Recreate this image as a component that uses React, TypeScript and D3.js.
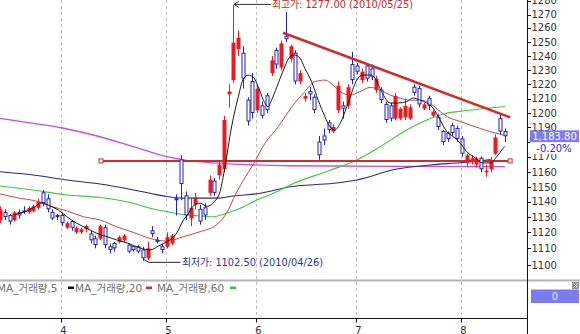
import React from "react";
import * as d3 from "d3";

// ---- Daily candles (index 0 = mid March 2010 ... index 106 = mid Aug 2010) ----
const opens = [
  1128, 1133, 1131, 1128, 1133, 1134, 1133, 1134, 1136, 1146,
  1142, 1133, 1131, 1131, 1123, 1127, 1120, 1120, 1122, 1119,
  1116, 1116, 1123, 1111, 1113, 1114, 1115, 1112, 1111, 1111,
  1109, 1104, 1121, 1115, 1111, 1111, 1113, 1142, 1168, 1144,
  1129, 1138, 1135, 1136, 1146, 1154, 1158, 1162, 1213, 1223,
  1245, 1242, 1209, 1222, 1202, 1205, 1212, 1228, 1244, 1232,
  1254, 1238, 1242, 1222, 1210, 1215, 1211, 1180, 1184, 1193,
  1187, 1202, 1205, 1205, 1234, 1233, 1223, 1233, 1231, 1216,
  1216, 1206, 1205, 1196, 1196, 1197, 1196, 1218, 1217, 1203,
  1210, 1198, 1197, 1187, 1186, 1191, 1189, 1182, 1166, 1167,
  1165, 1169, 1160, 1162, 1172, 1196, 1187,
];
const highs = [
  1137, 1135, 1132, 1134, 1135, 1137, 1137, 1138, 1142, 1148,
  1145, 1135, 1132, 1133, 1127, 1128, 1124, 1123, 1125, 1121,
  1118, 1125, 1125, 1113, 1114, 1118, 1119, 1113, 1112, 1112,
  1111, 1114, 1124, 1117, 1113, 1120, 1119, 1145, 1171, 1147,
  1142, 1146, 1138, 1139, 1158, 1156, 1167, 1198, 1220, 1277,
  1258, 1247, 1211, 1228, 1219, 1208, 1214, 1240, 1246, 1251,
  1272, 1248, 1244, 1230, 1214, 1218, 1213, 1184, 1189, 1195,
  1192, 1222, 1208, 1220, 1243, 1235, 1231, 1235, 1234, 1226,
  1218, 1208, 1207, 1214, 1204, 1210, 1206, 1220, 1219, 1207,
  1212, 1202, 1199, 1188, 1187, 1193, 1191, 1184, 1172, 1171,
  1170, 1170, 1165, 1170, 1185, 1199, 1189,
];
const lows = [
  1126, 1128, 1125, 1127, 1129, 1132, 1132, 1133, 1135, 1137,
  1133, 1128, 1128, 1124, 1122, 1121, 1119, 1119, 1120, 1113,
  1110, 1115, 1110, 1107, 1108, 1113, 1114, 1107, 1108, 1107,
  1102.5, 1103, 1117, 1113, 1107, 1110, 1112, 1131, 1141, 1128,
  1124, 1135, 1125, 1128, 1144, 1144, 1155, 1160, 1204, 1221,
  1240, 1217, 1191, 1196, 1200, 1196, 1200, 1226, 1231, 1230,
  1250, 1236, 1220, 1220, 1208, 1209, 1200, 1168, 1178, 1186,
  1186, 1200, 1196, 1203, 1220, 1227, 1221, 1222, 1223, 1214,
  1207, 1193, 1194, 1195, 1195, 1195, 1195, 1212, 1204, 1202,
  1202, 1197, 1188, 1178, 1180, 1184, 1180, 1170, 1164, 1165,
  1163, 1160, 1157, 1160, 1171, 1185, 1180,
];
const closes = [
  1135, 1130, 1127, 1133, 1131, 1133, 1136, 1137, 1140, 1139,
  1135, 1129, 1130, 1126, 1126, 1123, 1123, 1122, 1124, 1115,
  1112, 1124, 1112, 1109, 1110, 1117, 1118, 1108, 1109, 1108,
  1104, 1110, 1119, 1114, 1109, 1117, 1118, 1141, 1152, 1131,
  1136, 1143, 1127, 1131, 1155, 1146, 1165, 1195, 1215, 1249.5,
  1253, 1224, 1194, 1200, 1217, 1198, 1202, 1237, 1234, 1249,
  1252, 1247, 1222, 1228, 1212, 1213, 1202, 1171, 1181, 1188,
  1190, 1219, 1203, 1218, 1223, 1229, 1229, 1224, 1225, 1224,
  1209, 1195, 1196, 1212, 1203, 1205, 1204, 1214, 1206, 1206,
  1205, 1201, 1190, 1180, 1182, 1186, 1182, 1172, 1171, 1169,
  1169, 1162, 1161, 1168, 1183, 1187, 1183.8,
];

// ---- Moving averages as [candle index, price] ----
const ma5: [number, number][] = [
  [3, 1131.5], [4.2, 1132.4], [6.9, 1135.9], [8.7, 1139.2], [10.5, 1137.2], [12.2, 1134.6],
  [14, 1130.2], [16.1, 1125.9], [18.2, 1122.6], [20.3, 1119.4], [22.4, 1117.3], [24.5, 1115.2],
  [26.7, 1113.3], [29.4, 1110.2], [31.5, 1109], [33.6, 1112], [35, 1114], [37.1, 1119.6],
  [38.5, 1128], [39.5, 1132], [40.5, 1137], [42, 1139], [43.5, 1137], [45, 1140], [46.2, 1147],
  [47.2, 1163], [48.6, 1190], [50, 1211], [51.1, 1224], [52.1, 1226.5], [53.2, 1225],
  [54.2, 1218.3], [55.3, 1209], [56.3, 1204.4], [57, 1209], [58.1, 1218], [59.5, 1230.2],
  [60.9, 1239.5], [61.9, 1240.7], [63, 1238.4], [64, 1231.4], [65.4, 1221.9], [66.8, 1209],
  [68.2, 1197.4], [69.3, 1190], [70.3, 1188], [71.4, 1192.6], [73.1, 1207], [74.9, 1223],
  [76.2, 1226.6], [77.7, 1226.6], [78.7, 1224.5], [80.1, 1215], [81.9, 1207], [83.6, 1207],
  [85.4, 1208], [86.7, 1210.5], [88.2, 1209], [89.6, 1207], [90.9, 1203.5], [92.4, 1195],
  [93.8, 1187], [95.1, 1183.7], [96.6, 1179.3], [98, 1173.4], [99.8, 1169.2], [101.2, 1166],
  [102.9, 1166], [104.3, 1170], [105.7, 1176], [106, 1177],
];
const ma20: [number, number][] = [
  [0, 1145.3], [4.2, 1142.3], [7.3, 1140.7], [10.5, 1137.2], [14, 1134], [17.5, 1130.2],
  [21, 1128], [24.5, 1123.6], [28, 1119.9], [31.5, 1116.2], [35, 1114.5], [38.5, 1117.3],
  [42, 1120.4], [45.5, 1125], [47, 1130], [48, 1135], [49, 1142], [51.1, 1154.7],
  [53.1, 1164.7], [55.6, 1179], [58.4, 1190.2], [61.2, 1204], [64, 1214.9], [66.1, 1221.9],
  [68.2, 1223], [70.3, 1218.3], [71.4, 1214.9], [73.5, 1212.6], [75.6, 1214.9], [77.7, 1217.9],
  [79.8, 1216], [81.9, 1212.6], [84, 1210.3], [86.1, 1209], [88.2, 1209], [90.3, 1206.8],
  [92.4, 1201], [94.5, 1196.4], [96.6, 1194], [98.7, 1191.4], [100.8, 1189.1], [102.9, 1186.9],
  [104.3, 1185.8], [106, 1184.3],
];
const ma60: [number, number][] = [
  [0, 1150.7], [6.9, 1148], [14, 1144.6], [21, 1142.9], [28, 1139], [31.5, 1135.7],
  [35, 1133.5], [38.5, 1131.6], [42, 1130.7], [44.8, 1130.2], [47.6, 1132.5], [50.4, 1135.7],
  [53.9, 1141.2], [57.4, 1145.7], [60.9, 1151.4], [69, 1161], [74.9, 1167.9], [79.8, 1176.8],
  [85.4, 1188], [89.6, 1195], [93.1, 1199.3], [97.3, 1201.4], [102.2, 1203.3], [106, 1204.5],
];
const ma120: [number, number][] = [
  [0, 1160.4], [7, 1158.2], [14, 1154.8], [21, 1152], [28, 1148], [31.5, 1145.7],
  [35, 1143.5], [38.5, 1142.4], [42, 1142.4], [45.5, 1142.4], [49, 1143.9], [54.6, 1145.7],
  [60.9, 1150.2], [70, 1152.5], [74.9, 1154.8], [83.3, 1162.1], [90.3, 1164.7], [97.3, 1166.3],
  [103, 1168.2],
];
const ma240: [number, number][] = [
  [0, 1196.1], [7, 1192.6], [12.8, 1189.5], [21, 1183.5], [28, 1176.8], [35, 1170],
  [38.5, 1167.9], [43.4, 1166.4], [49, 1165.3], [60.9, 1164.2], [84, 1163.8], [106, 1163.7],
];

// ---- Axis / annotation values ----
const priceTicks = [1100, 1110, 1120, 1130, 1140, 1150, 1160, 1170, 1180, 1190, 1200, 1210, 1220, 1230, 1240, 1250, 1260, 1270, 1280];
const hiddenTickLabels = [1180]; // fully covered by the last-price box in the original
const monthLabels = ["4", "5", "6", "7", "8"];
const monthStartIdx = [13, 35, 54, 75, 97];
const trendPoints: [number, number][] = [[59.4, 1256.5], [107.1, 1196.9]];
const supportPrice = 1167.3;
const supportRange = [21.2, 107.1];
const highIdx = 49, highPrice = 1277;
const highLabel = "최고가: 1277.00 (2010/05/25)";
const lowIdx = 30, lowPrice = 1102.5;
const lowLabel = "최저가: 1102.50 (2010/04/26)";
const lastPriceLabel = "1,183.80";
const lastPrice = 1183.8;
const changeLabel = "-0.20%";
const volumeValueLabel = "0";
const legendItems = [
  { label: "MA_거래량,5", color: "#111111" },
  { label: "MA_거래량,20", color: "#d83030" },
  { label: "MA_거래량,60", color: "#33cc33" },
];

const RED = "#ea1c22";
const BLUE = "#2323c0";
const FONT = "'DejaVu Sans', 'Noto Sans CJK KR', sans-serif";

export default function App() {
  const W = 580, H = 334;
  const axisX = 527;
  const sepY = 280.5;
  const xAxisY = 318.5;

  const x = d3.scaleLinear().domain([13, 97]).range([62, 462]);
  const y = d3
    .scaleLinear()
    .domain(priceTicks)
    .range([265, 248.3, 232.3, 217, 201.7, 187, 172.3, 156.7, 142, 127, 113, 98.7, 84.3, 70.3, 56, 42, 27.7, 14.7, 0.7]);

  const line = d3
    .line<[number, number]>()
    .x((d) => x(d[0]))
    .y((d) => y(d[1]))
    .curve(d3.curveMonotoneX);

  const idx = d3.range(opens.length);
  const gridXs = monthStartIdx.map((m) => Math.round(x(m)) - 0.5);

  const hx = x(highIdx) + 0.5;
  const hy = y(highPrice) - 0.5;
  const lx = x(lowIdx) + 0.5;
  const ly = y(lowPrice);
  const lastY = y(lastPrice);
  const supY = y(supportPrice);

  const legendX = [-3, 75, 157];
  const legendDashX = [68, 146, 230];

  return (
    <svg
      width={W}
      height={H}
      viewBox={`0 0 ${W} ${H}`}
      style={{ position: "absolute", left: 0, top: 0, background: "#fff" }}
      fontFamily={FONT}
    >
      <defs>
        <clipPath id="plotClip">
          <rect x={0} y={0} width={axisX} height={sepY - 1} />
        </clipPath>
      </defs>
      <rect x={0} y={0} width={W} height={H} fill="#fff" />

      {/* vertical dashed gridlines */}
      {gridXs.map((gx, i) => (
        <line key={`g${i}`} x1={gx} x2={gx} y1={0} y2={xAxisY} stroke="#bdbdbd" strokeDasharray="3,3" />
      ))}

      <g clipPath="url(#plotClip)">
        {/* moving averages */}
        <path d={line(ma240) || ""} fill="none" stroke="#c450dc" strokeWidth={1.3} />
        <path d={line(ma120) || ""} fill="none" stroke="#28288e" strokeWidth={1.1} />
        <path d={line(ma60) || ""} fill="none" stroke="#3ec83e" strokeWidth={1.1} />
        <path d={line(ma20) || ""} fill="none" stroke="#c24a48" strokeWidth={1} />

        {/* support horizontal line */}
        <line x1={x(supportRange[0])} x2={x(supportRange[1])} y1={supY} y2={supY} stroke="#d42a2a" strokeWidth={2} />
        <rect x={x(supportRange[0]) - 2} y={supY - 2} width={4} height={4} fill="#fff" stroke="#d42a2a" strokeWidth={1} />
        <rect x={x(supportRange[1]) - 2} y={supY - 2} width={4} height={4} fill="#fff" stroke="#d42a2a" strokeWidth={1} />

        {/* candles */}
        {idx.map((i) => {
          const o = opens[i], c = closes[i], h = highs[i], l = lows[i];
          const up = c >= o;
          const cx = Math.round(x(i)) + 0.5;
          const top = y(Math.max(o, c));
          const bot = y(Math.min(o, c));
          const bh = Math.max(1, bot - top);
          const col = up ? RED : BLUE;
          return (
            <g key={`c${i}`}>
              <line x1={cx} x2={cx} y1={y(h)} y2={y(l)} stroke={col} strokeWidth={1} />
              {up ? (
                <rect x={cx - 2} y={top} width={4} height={bh} fill={col} />
              ) : (
                <rect x={cx - 1.5} y={top} width={3} height={Math.max(1, bh - 0.5)} fill="#fff" stroke={col} strokeWidth={1} />
              )}
            </g>
          );
        })}

        <path d={line(ma5) || ""} fill="none" stroke="#1a1a1a" strokeWidth={1} />

        {/* descending trend line */}
        <line
          x1={x(trendPoints[0][0])}
          y1={y(trendPoints[0][1])}
          x2={x(trendPoints[1][0])}
          y2={y(trendPoints[1][1])}
          stroke="#d42a2a"
          strokeWidth={2.6}
        />

        {/* high annotation */}
        <line x1={hx + 37} x2={hx} y1={hy} y2={hy} stroke="#333" strokeWidth={1} />
        <polyline points={`${hx + 5},${hy - 3} ${hx},${hy} ${hx + 5},${hy + 3}`} fill="none" stroke="#333" strokeWidth={1} />
        <text x={hx + 38} y={hy + 4} fontSize={9.8} fill="#c62a2a">{highLabel}</text>

        {/* low annotation */}
        <polyline
          points={`${lx},${ly - 1.5} ${lx + 5.5},${ly + 1.5} ${lx + 37},${ly + 1.5}`}
          fill="none"
          stroke="#222"
          strokeWidth={1}
        />
        <text x={lx + 38.5} y={ly + 5} fontSize={9.8} fill="#2b3596">{lowLabel}</text>
      </g>

      {/* pane separator */}
      <rect x={0} y={sepY - 1} width={W} height={2} fill="#b4b4b4" />

      {/* legend of the volume pane */}
      {legendItems.map((it, i) => (
        <g key={`lg${i}`}>
          <text x={legendX[i]} y={sepY + 11} fontSize={10.5} fill="#707070">{it.label}</text>
          <rect x={legendDashX[i]} y={sepY + 6} width={6} height={2.5} fill={it.color} />
        </g>
      ))}

      {/* x axis */}
      <line x1={0} x2={axisX} y1={xAxisY} y2={xAxisY} stroke="#111" />
      {gridXs.map((gx, i) => (
        <g key={`xt${i}`}>
          <line x1={gx} x2={gx} y1={xAxisY} y2={xAxisY + 4} stroke="#111" />
          <text x={gx + 2} y={xAxisY + 15} fontSize={10} fill="#333" textAnchor="middle">{monthLabels[i]}</text>
        </g>
      ))}

      {/* y axis */}
      <line x1={axisX + 0.5} x2={axisX + 0.5} y1={0} y2={H} stroke="#111" />
      {priceTicks.map((p) => (
        <g key={`yt${p}`}>
          <line x1={axisX} x2={axisX + 4} y1={Math.round(y(p)) + 0.5} y2={Math.round(y(p)) + 0.5} stroke="#111" />
          {hiddenTickLabels.includes(p) ? null : (
            <text x={axisX + 4.5} y={y(p)} dy="0.36em" fontSize={10} fill="#333">{p}</text>
          )}
        </g>
      ))}

      {/* last price box & change */}
      <rect x={530} y={lastY - 6} width={49} height={12} fill="#7c7cf0" />
      <text x={554.5} y={lastY + 3.6} fontSize={10} fill="#fff" textAnchor="middle">{lastPriceLabel}</text>
      <rect x={530} y={lastY + 6} width={49} height={11.5} fill="#fff" />
      <text x={554} y={lastY + 16} fontSize={10} fill="#2b2bd0" textAnchor="middle">{changeLabel}</text>

      {/* volume pane value & close icon */}
      <rect x={531} y={289.5} width={48} height={13.5} fill="#7c7cf0" />
      <text x={555} y={300} fontSize={10} fill="#e6e6ff" textAnchor="middle">{volumeValueLabel}</text>
      <rect x={572.5} y={282.5} width={6} height={6} fill="#9a9a9a" stroke="#666" strokeWidth={0.6} />
      <line x1={573.5} y1={283.5} x2={577.5} y2={287.5} stroke="#fff" strokeWidth={0.9} />
      <line x1={577.5} y1={283.5} x2={573.5} y2={287.5} stroke="#fff" strokeWidth={0.9} />
    </svg>
  );
}
